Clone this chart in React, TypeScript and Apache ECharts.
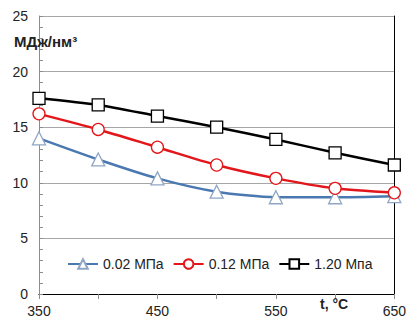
import React, { useEffect, useRef } from "react";
import * as echarts from "echarts";

const temperatures = [350, 400, 450, 500, 550, 600, 650];
const seriesNames = ["0.02 МПа", "0.12 МПа", "1.20 Мпа"];
const low = [14.0, 12.1, 10.4, 9.2, 8.7, 8.7, 8.8];
const mid = [16.2, 14.8, 13.2, 11.6, 10.4, 9.5, 9.1];
const high = [17.6, 17.0, 16.0, 15.0, 13.9, 12.7, 11.6];
const xLabels = [350, 450, 550, 650];
const yUnit = "МДж/нм³";
const xUnit = "t, °C";

const FONT = "Liberation Sans";

export default function App() {
  const ref = useRef<HTMLDivElement>(null);
  useEffect(() => {
    document.body.style.margin = "0";
    const chart = echarts.init(ref.current!, null, { renderer: "svg" });
    const pairs = (vals: number[]) => temperatures.map((t, i) => [t, vals[i]]);
    const mk = (name: string, vals: number[], color: string, symbol: string, symColor: string, size: number) => ({
      name,
      type: "line",
      data: pairs(vals),
      symbol,
      symbolSize: size,
      showAllSymbol: true,
      smooth: 0.25,
      lineStyle: { color, width: 2.5 },
      itemStyle: { color: "#ffffff", borderColor: symColor, borderWidth: 1.3 },
      emphasis: { disabled: true },
      z: 3,
    });
    chart.setOption({
      animation: false,
      textStyle: { fontFamily: FONT },
      grid: { left: 39, right: 14, top: 16, bottom: 27 },
      legend: {
        left: 62,
        top: 252,
        itemWidth: 30,
        itemHeight: 12,
        itemGap: 9,
        textStyle: { fontFamily: FONT, fontSize: 14, color: "#222" },
        data: seriesNames,
      },
      xAxis: [
        {
          type: "value",
          min: 350,
          max: 650,
          interval: 50,
          axisLine: { show: true, onZero: false, lineStyle: { color: "#8c8c8c", width: 1 } },
          axisTick: { show: true, inside: false, length: 5, lineStyle: { color: "#8c8c8c" } },
          axisLabel: {
            fontFamily: FONT,
            fontSize: 14,
            color: "#222",
            margin: 10,
            formatter: (v: number) => (xLabels.includes(v) ? String(v) : ""),
          },
          splitLine: { show: false },
        },
        {
          type: "value",
          position: "top",
          min: 350,
          max: 650,
          axisLine: { show: true, lineStyle: { color: "#000", width: 1 } },
          axisTick: { show: false },
          axisLabel: { show: false },
          splitLine: { show: false },
        },
      ],
      yAxis: [
        {
          type: "value",
          min: 0,
          max: 25,
          interval: 5,
          axisLine: { show: true, lineStyle: { color: "#8c8c8c", width: 1 } },
          axisTick: { show: true, inside: true, length: 4, lineStyle: { color: "#8c8c8c" } },
          minorTick: { show: true, splitNumber: 5, length: 4, lineStyle: { color: "#8c8c8c" } },
          axisLabel: { fontFamily: FONT, fontSize: 14, color: "#222", margin: 11 },
          splitLine: { show: true, lineStyle: { color: "#a6a6a6", width: 1 } },
        },
        {
          type: "value",
          position: "right",
          min: 0,
          max: 25,
          axisLine: { show: true, lineStyle: { color: "#000", width: 1 } },
          axisTick: { show: false },
          axisLabel: { show: false },
          splitLine: { show: false },
        },
      ],
      graphic: [
        {
          type: "text",
          left: 14,
          top: 34,
          style: { text: yUnit, fontFamily: FONT, fontSize: 15, fontWeight: "bold", fill: "#222" },
          z: 10,
        },
        {
          type: "text",
          left: 320,
          top: 297,
          style: { text: xUnit, fontFamily: FONT, fontSize: 14, fontWeight: "bold", fill: "#222" },
          z: 10,
        },
      ],
      series: [
        mk(seriesNames[0], low, "#4a78b0", "triangle", "#8fa6c4", 13),
        mk(seriesNames[1], mid, "#e3161b", "circle", "#e3161b", 12),
        mk(seriesNames[2], high, "#000000", "rect", "#000000", 12),
      ],
    });
    return () => chart.dispose();
  }, []);
  return <div ref={ref} style={{ width: 409, height: 321 }} />;
}
